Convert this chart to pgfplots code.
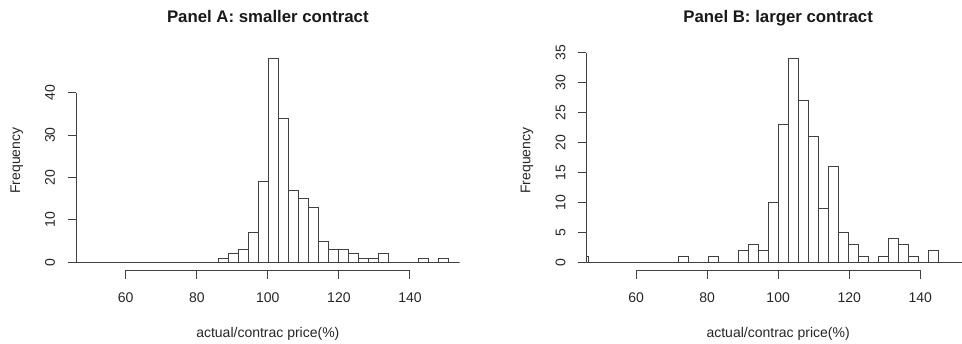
\documentclass[border=0pt]{standalone}
\usepackage{fontspec}
\setmainfont{Liberation Sans}
\usepackage{pgfplots}
\pgfplotsset{compat=1.18}
\definecolor{rline}{gray}{0.25}
\pgfplotsset{rhist/.style={
  scale only axis, width=383.7pt, height=219.8pt,
  xmin=46, xmax=154,
  axis line style={draw=none},
  xtick pos=bottom, ytick pos=left,
  tick align=outside, major tick length=8.5pt,
  minor tick num=0,
  tick style={rline, line width=1pt},
  xtick={60,80,100,120,140},
  clip mode=individual,
  /pgf/number format/assume math mode=true,
  ticklabel style={font=\fontsize{14}{16}\selectfont, text=black!85},
  xticklabel style={anchor=base, inner sep=0pt, yshift=-23.8pt},
  yticklabel style={xshift=-12.2pt, rotate=90, anchor=south, inner sep=0pt},
  every axis title/.style={at={(axis description cs:0.5,1)}, anchor=base, yshift=27.9pt, inner sep=0pt, font=\fontsize{16.8}{20}\selectfont\bfseries, text=black!90},
  every axis x label/.style={at={(axis description cs:0.5,0)}, anchor=base, yshift=-66.6pt, inner sep=0pt, font=\fontsize{14}{16}\selectfont, text=black!85},
  every axis y label/.style={at={(axis description cs:0,0.5)}, xshift=-59.3pt, rotate=90, anchor=center, inner sep=0pt, font=\fontsize{14}{16}\selectfont, text=black!85},
  xlabel={actual/contrac price(\%)}, ylabel={Frequency},
}}
\begin{document}
\begin{tikzpicture}
\useasboundingbox (0,0) rectangle (962pt,343pt);
% Panel A
\begin{axis}[rhist, at={(76pt,72.6pt)}, anchor=south west,
  ymin=-1.92, ymax=49.92, ytick={0,10,20,30,40},
  title={Panel A: smaller contract}]
\addplot[sharp plot, rline, line width=1pt] coordinates {(40,0) (160,0)};
\addplot[ybar, bar width=2.82, bar shift=0pt, draw=rline, fill=white, line width=1pt] coordinates {
(87.41,1) (90.23,2) (93.05,3) (95.87,7) (98.69,19) (101.51,48) (104.33,34)
(107.15,17) (109.97,15) (112.79,13) (115.61,5) (118.43,3) (121.25,3)
(124.07,2) (126.89,1) (129.71,1) (132.53,2) (143.81,1) (149.45,1)};
\draw[rline, line width=1pt] (axis cs:46,0) -- (axis cs:46,40);
\draw[rline, line width=1pt] (axis cs:60,-1.92) -- (axis cs:140,-1.92);
\end{axis}
% Panel B
\begin{axis}[rhist, at={(586.3pt,72.6pt)}, anchor=south west,
  ymin=-1.36, ymax=35.36, ytick={0,5,10,15,20,25,30,35},
  title={Panel B: larger contract}]
\addplot[sharp plot, rline, line width=1pt] coordinates {(40,0) (160,0)};
\addplot[ybar, bar width=2.82, bar shift=0pt, draw=rline, fill=white, line width=1pt] coordinates {
(45.11,1) (73.31,1) (81.77,1) (90.23,2) (93.05,3) (95.87,2) (98.69,10)
(101.51,23) (104.33,34) (107.15,27) (109.97,21) (112.79,9) (115.61,16)
(118.43,5) (121.25,3) (124.07,1) (129.71,1) (132.53,4) (135.35,3)
(138.17,1) (143.81,2)};
\draw[rline, line width=1pt] (axis cs:46,0) -- (axis cs:46,35);
\draw[rline, line width=1pt] (axis cs:60,-1.36) -- (axis cs:140,-1.36);
\end{axis}
\end{tikzpicture}
\end{document}
